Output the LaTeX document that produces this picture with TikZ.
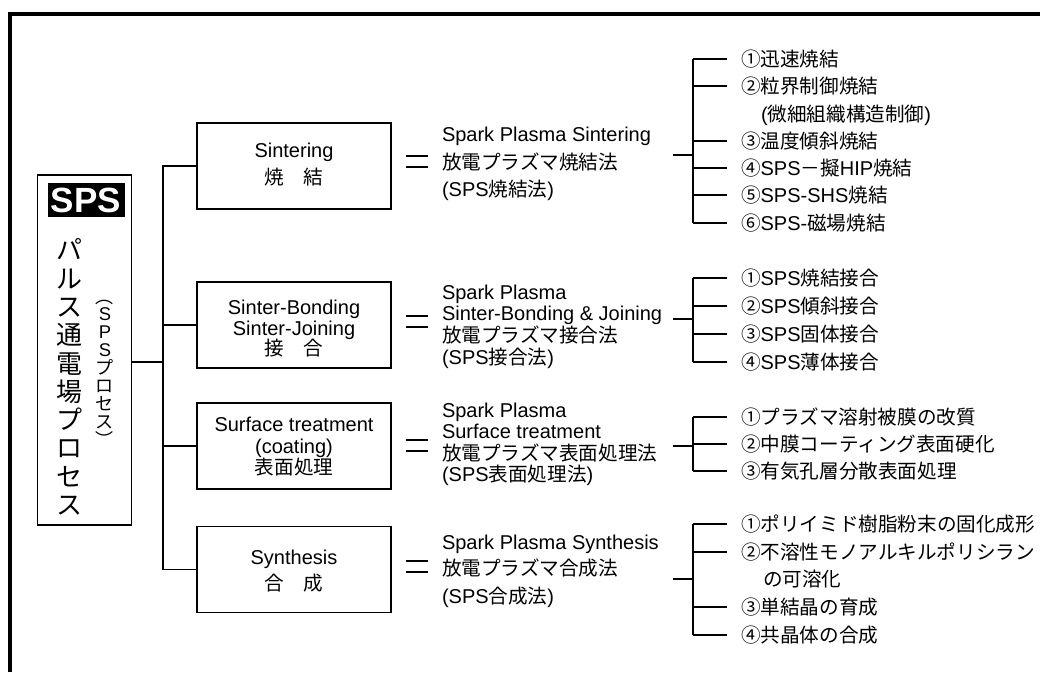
\documentclass[tikz,border=0pt]{standalone}
\usepackage{fontspec}
\setmainfont{Liberation Sans}
\newfontfamily\jpf[Scale=0.98]{Noto Sans CJK JP}
\newcommand{\J}[1]{{\jpf #1}}
\setlength{\lineskiplimit}{-30pt}
\begin{document}
\begin{tikzpicture}[x=1pt,y=-1pt,
  line width=1.3pt,
  every node/.style={inner sep=0pt, outer sep=0pt},
  fr/.style={draw, line width=1.5pt},
  catbox/.style={fr, minimum width=194pt, minimum height=86pt},
  t/.style={anchor=west, text height=18pt, text depth=4pt, font=\fontsize{20}{23}\selectfont},
  ct/.style={anchor=center, text height=18pt, text depth=4pt, font=\fontsize{20}{23}\selectfont},
  vch/.style={font=\fontsize{18.4}{18}\selectfont, text height=14pt, text depth=2pt},
  eq/.style={line width=1.3pt},
]
\useasboundingbox (0,0) rectangle (1040,672);
% outer frame (cropped)
\draw[line width=4pt] (10,672) -- (10,14) -- (1040,14);

% main box
\node[fr, minimum width=94pt, minimum height=350pt] (main) at (84.5,350) {};
\node[fill=black, text=white, minimum width=77pt, minimum height=34pt,
      font=\fontsize{35}{36}\selectfont\bfseries] (sps) at (86,200) {SPS};
\node[align=center, font=\fontsize{26.5}{28.3}\selectfont\jpf] (vt1) at (69,377)
  {パ\\ル\\ス\\通\\電\\場\\プ\\ロ\\セ\\ス};
% vertical sub-title (SPSプロセス), one glyph per cell
\foreach \ch [count=\i] in {\J{︵},S,P,S,\J{プ},\J{ロ},\J{セ},\J{ス},\J{︶}}
  \node[vch] (vt2-\i) at (105,{297+(\i-1)*17.9}) {\ch};

% category boxes
\node[catbox] (b1) at (294,166) {};
\node[catbox] (b2) at (294,325) {};
\node[catbox] (b3) at (294,446) {};
\node[catbox] (b4) at (294,569.5) {};

\node[ct] (b1a) at (294,150) {Sintering};
\node[ct] (b1b) at (294,177) {\J{焼　結}};
\node[ct] (b2a) at (294,307) {Sinter-Bonding};
\node[ct] (b2b) at (294,328) {Sinter-Joining};
\node[ct] (b2c) at (294,348) {\J{接　合}};
\node[ct] (b3a) at (294,424) {Surface treatment};
\node[ct] (b3b) at (294,446) {(coating)};
\node[ct] (b3c) at (294,467) {\J{表面処理}};
\node[ct] (b4a) at (294,557) {Synthesis};
\node[ct] (b4b) at (294,583) {\J{合　成}};

% tree trunk
\coordinate (tx) at (163,0);
\coordinate (mj) at (163,362);
\draw (main.east |- mj) -- (mj);
\draw (b1.west) -- (b1.west -| tx) -- (b4.west -| tx) -- (b4.west);
\draw (b2.west) -- (b2.west -| tx);
\draw (b3.west) -- (b3.west -| tx);

% equal marks
\foreach \ya/\yb in {156/167, 316/327, 440/451, 561/572}{
  \draw[eq] (406,\ya) -- (428,\ya);
  \draw[eq] (406,\yb) -- (428,\yb);
}

% middle texts
\node[t] (m1a) at (442,134) {Spark Plasma Sintering};
\node[t] (m1b) at (442,162) {\J{放電プラズマ焼結法}};
\node[t] (m1c) at (442,189) {(SPS\J{焼結法})};

\node[t] (m2a) at (442,292) {Spark Plasma};
\node[t] (m2b) at (442,313) {Sinter-Bonding \& Joining};
\node[t] (m2c) at (442,335) {\J{放電プラズマ接合法}};
\node[t] (m2d) at (442,357) {(SPS\J{接合法})};

\node[t] (m3a) at (442,410) {Spark Plasma};
\node[t] (m3b) at (442,431) {Surface treatment};
\node[t] (m3c) at (442,453) {\J{放電プラズマ表面処理法}};
\node[t] (m3d) at (442,474) {(SPS\J{表面処理法})};

\node[t] (m4a) at (442,542) {Spark Plasma Synthesis};
\node[t] (m4b) at (442,568) {\J{放電プラズマ合成法}};
\node[t] (m4c) at (442,596) {(SPS\J{合成法})};

% right lists
\coordinate (bx) at (693,0);
% group 1
\node[t] (r1a) at (741,59) {\J{①迅速焼結}};
\node[t] (r1b) at (741,86) {\J{②粒界制御焼結}};
\node[t] (r1bb) at (761,114) {(\J{微細組織構造制御})};
\node[t] (r1c) at (741,141) {\J{③温度傾斜焼結}};
\node[t] (r1d) at (741,168) {\J{④}SPS\J{－擬}HIP\J{焼結}};
\node[t] (r1e) at (741,195) {\J{⑤}SPS-SHS\J{焼結}};
\node[t] (r1f) at (741,223) {\J{⑥}SPS-\J{磁場焼結}};
\coordinate (in1) at (673,155);
\draw (in1) -- (in1 -| bx);
\draw (r1a.west -| bx) -- (r1f.west -| bx);
\foreach \n in {r1a,r1b,r1c,r1d,r1e,r1f}
  \draw (\n.west -| bx) -- ([xshift=-14pt]\n.west);
% group 2
\node[t] (r2a) at (741,278) {\J{①}SPS\J{焼結接合}};
\node[t] (r2b) at (741,306) {\J{②}SPS\J{傾斜接合}};
\node[t] (r2c) at (741,334) {\J{③}SPS\J{固体接合}};
\node[t] (r2d) at (741,362) {\J{④}SPS\J{薄体接合}};
\coordinate (in2) at (673,319);
\draw (in2) -- (in2 -| bx);
\draw (r2a.west -| bx) -- (r2d.west -| bx);
\foreach \n in {r2a,r2b,r2c,r2d}
  \draw (\n.west -| bx) -- ([xshift=-14pt]\n.west);
% group 3
\node[t] (r3a) at (741,417) {\J{①プラズマ溶射被膜の改質}};
\node[t] (r3b) at (741,444) {\J{②中膜コーティング表面硬化}};
\node[t] (r3c) at (741,471) {\J{③有気孔層分散表面処理}};
\coordinate (in3) at (673,446);
\draw (in3) -- (in3 -| bx);
\draw (r3a.west -| bx) -- (r3c.west -| bx);
\foreach \n in {r3a,r3b,r3c}
  \draw (\n.west -| bx) -- ([xshift=-14pt]\n.west);
% group 4
\node[t] (r4a) at (741,524) {\J{①ポリイミド樹脂粉末の固化成形}};
\node[t] (r4b) at (741,552) {\J{②不溶性モノアルキルポリシラン}};
\node[t] (r4bb) at (763,579) {\J{の可溶化}};
\node[t] (r4c) at (741,607) {\J{③単結晶の育成}};
\node[t] (r4d) at (741,635) {\J{④共晶体の合成}};
\coordinate (in4) at (673,579);
\draw (in4) -- (in4 -| bx);
\draw (r4a.west -| bx) -- (r4d.west -| bx);
\foreach \n in {r4a,r4b,r4c,r4d}
  \draw (\n.west -| bx) -- ([xshift=-14pt]\n.west);
\end{tikzpicture}
\end{document}
